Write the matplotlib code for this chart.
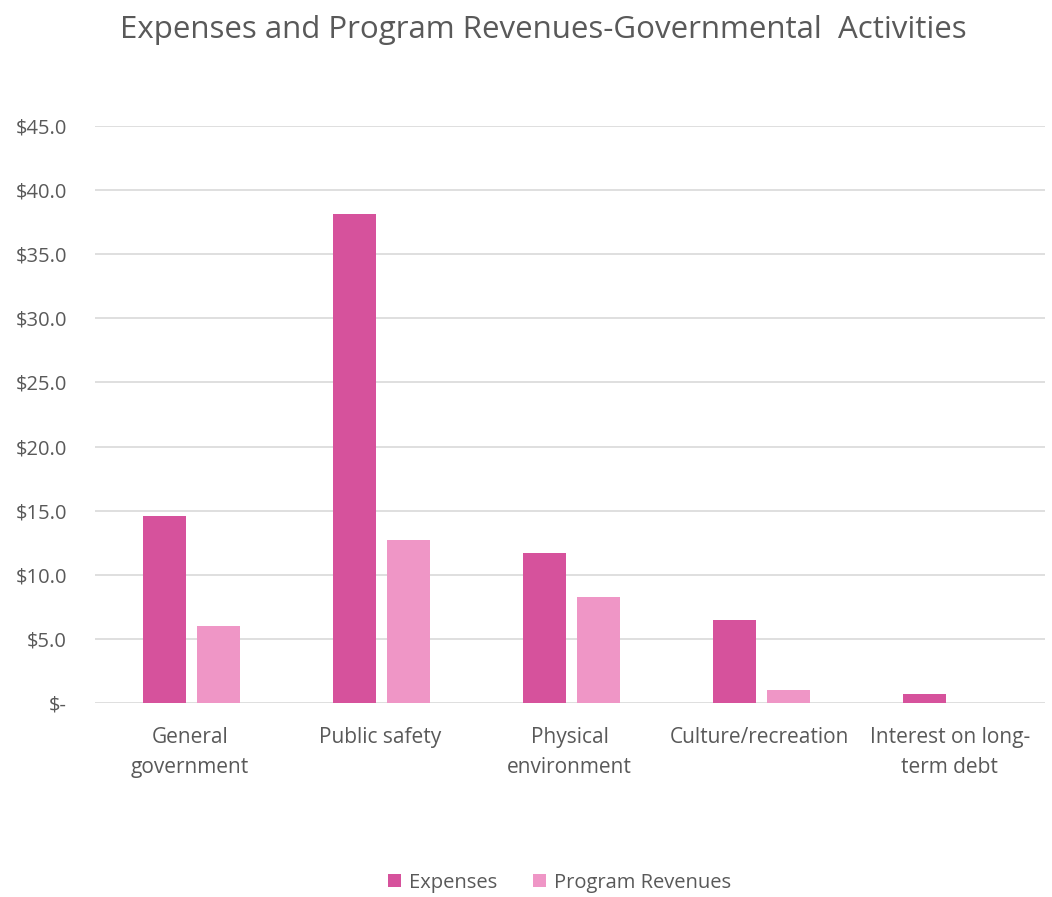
import numpy as np
import matplotlib.pyplot as plt
from matplotlib.ticker import FuncFormatter

# data (millions)
categories = ["General\ngovernment", "Public safety", "Physical\nenvironment",
              "Culture/recreation", "Interest on long-\nterm debt"]
expenses = [14.6, 38.1, 11.7, 6.5, 0.7]
program_revenues = [6.0, 12.7, 8.3, 1.0, 0.0]

plt.rcParams['font.family'] = ['Open Sans', 'DejaVu Sans']
text_col = "#595959"

fig = plt.figure(figsize=(10.52, 8.97), dpi=100)
ax = fig.add_axes([0.090, 0.2163, 0.903, 0.6432])

x = np.arange(len(categories))
w = 0.225
gap = 0.06
ax.bar(x - (w + gap) / 2 + 0.01, expenses, w, color="#d6529c", label="Expenses", zorder=3)
ax.bar(x + (w + gap) / 2 + 0.01, program_revenues, w, color="#ef96c6", label="Program Revenues", zorder=3)

ax.set_xlim(-0.5, len(categories) - 0.5)
ax.set_ylim(0, 45)
ax.set_yticks(np.arange(0, 46, 5))
ax.yaxis.set_major_formatter(FuncFormatter(lambda v, p: "$-" if v == 0 else f"${v:.1f}"))
ax.grid(axis="y", color="#d9d9d9", linewidth=1.2, zorder=0)
for s in ax.spines.values():
    s.set_visible(False)
ax.tick_params(axis="both", length=0, colors=text_col)
ax.tick_params(axis="y", pad=20, labelsize=14.5)
ax.set_xticks(x)
ax.set_xticklabels(categories, linespacing=1.6)
ax.tick_params(axis="x", pad=17, labelsize=15)

fig.text(0.516, 0.966, "Expenses and Program Revenues-Governmental  Activities",
         ha="center", va="center", fontsize=22.5, color=text_col)

fig.legend(loc="center", bbox_to_anchor=(0.532, 0.016), ncol=2, frameon=False,
           fontsize=14.5, labelcolor=text_col, handlelength=0.65, handleheight=0.65,
           handletextpad=0.4, columnspacing=1.8)

plt.savefig("out.png", dpi=100)
